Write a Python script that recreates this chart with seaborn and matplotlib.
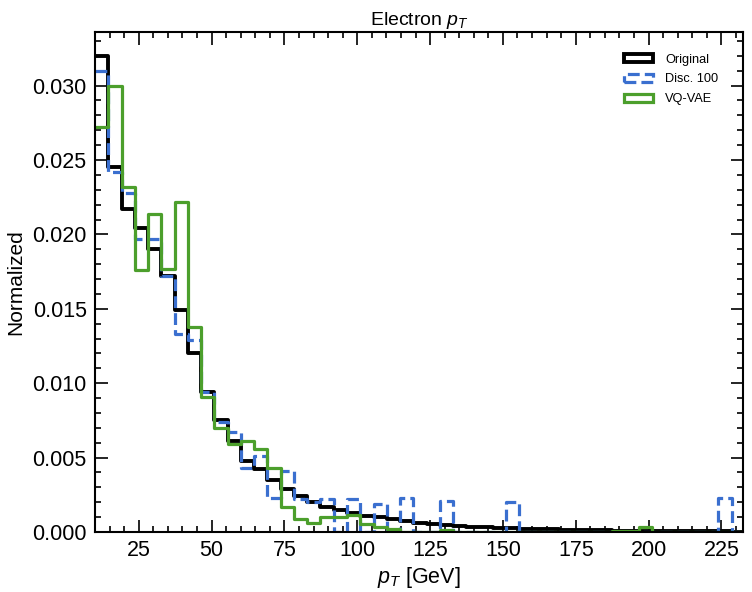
import numpy as np
import pandas as pd
import matplotlib
matplotlib.use("Agg")
import matplotlib.pyplot as plt
from matplotlib.patches import Patch
from matplotlib.ticker import MultipleLocator
import seaborn as sns

# ---- data (normalized bin heights) ----
bin_lo, bin_hi, n_bins = 10.0, 228.5, 48
x_range = (10.0, 232.4)

original = [0.0320, 0.0245, 0.0217, 0.0204, 0.0190, 0.0172, 0.0149, 0.0120,
            0.0094, 0.0075, 0.0061, 0.0048, 0.0042, 0.0035, 0.0029, 0.0024,
            0.0020, 0.0017, 0.0015, 0.0013, 0.0011, 0.0010, 0.00085, 0.00074,
            0.00063, 0.00054, 0.00045, 0.00040, 0.00036, 0.00032, 0.00029, 0.00026,
            0.00023, 0.00020, 0.00018, 0.00016, 0.00014, 0.00012, 0.00011, 0.00010,
            0.00009, 0.00008, 0.00007, 0.00006, 0.00005, 0.00005, 0.00004, 0.00004]

disc100 = [0.0310, 0.0242, 0.0228, 0.0197, 0.0197, 0.0172, 0.0133, 0.0129,
           0.0094, 0.0074, 0.0067, 0.0043, 0.0051, 0.0023, 0.0041, 0.0022,
           0.0020, 0.0022, 0.0, 0.0022, 0.0, 0.0019, 0.0, 0.0023,
           0.0, 0.0, 0.0021, 0.0, 0.0, 0.0, 0.0, 0.0020,
           0.0, 0.0, 0.0, 0.0, 0.0, 0.0, 0.0, 0.0,
           0.0, 0.0, 0.0, 0.0, 0.0, 0.0, 0.0, 0.0023]

vqvae = [0.0272, 0.0300, 0.0232, 0.0176, 0.0214, 0.0177, 0.0222, 0.0138,
         0.0091, 0.0070, 0.0059, 0.0061, 0.0056, 0.0043, 0.0017, 0.00085,
         0.0006, 0.0010, 0.0010, 0.00114, 0.00054, 0.00036, 0.00018, 0.0,
         0.0, 0.0, 0.00013, 0.0, 0.0, 0.0, 0.0, 0.0,
         0.0, 0.0, 0.0, 0.0, 0.0, 0.0, 0.0, 0.0001,
         0.0001, 0.00036, 0.0, 0.0, 0.0, 0.0, 0.0, 0.0]

labels = ["Original", "Disc. 100", "VQ-VAE"]
colors = ["#000000", "#3a6fcf", "#4c9f2c"]
styles = ["-", "--", "-"]
widths = [2.8, 2.3, 2.3]

# ---- style ----
sns.set_style("ticks")
plt.rcParams["font.family"] = ["Liberation Sans", "DejaVu Sans"]
plt.rcParams["mathtext.fontset"] = "custom"
plt.rcParams["mathtext.rm"] = "Liberation Sans"
plt.rcParams["mathtext.it"] = "Liberation Sans:italic"
for key in ["text.color", "axes.labelcolor", "xtick.color", "ytick.color", "axes.edgecolor"]:
    plt.rcParams[key] = "black"

edges = np.linspace(bin_lo, bin_hi, n_bins + 1)
step = edges[1] - edges[0]
edges_ext = np.append(edges, edges[-1] + step)  # empty bin closes the last step
centers = 0.5 * (edges_ext[:-1] + edges_ext[1:])

fig = plt.figure(figsize=(7.52, 5.92), dpi=100)
ax = fig.add_axes([95 / 752, 60 / 592, 648 / 752, 500 / 592])

for lab, vals, col, ls, lw in zip(labels, [original, disc100, vqvae], colors, styles, widths):
    df = pd.DataFrame({"pT": centers, "w": list(vals) + [0.0]})
    sns.histplot(data=df, x="pT", weights="w", bins=edges_ext.tolist(), element="step",
                 fill=False, color=col, linestyle=ls, linewidth=lw, ax=ax)

ax.set_xlim(*x_range)
ax.set_ylim(0, 0.0336)
ax.xaxis.set_major_locator(MultipleLocator(25))
ax.xaxis.set_minor_locator(MultipleLocator(5))
ax.yaxis.set_major_locator(MultipleLocator(0.005))
ax.yaxis.set_minor_locator(MultipleLocator(0.001))
ax.tick_params(which="both", direction="in", top=True, right=True, labelsize=15.5, width=1.2)
ax.tick_params(which="major", length=9, pad=6)
ax.tick_params(which="minor", length=4.5)
for sp in ax.spines.values():
    sp.set_linewidth(1.5)

ax.set_xlabel("$p_T$ [GeV]", fontsize=15.5, labelpad=3)
ax.set_ylabel("Normalized", fontsize=15, labelpad=5)
ax.set_title("Electron $p_T$", fontsize=14, pad=5)

handles = [Patch(facecolor="none", edgecolor=c, linestyle=s, linewidth=w, label=l)
           for l, c, s, w in zip(labels, colors, styles, widths)]
ax.legend(handles=handles, loc="upper right", bbox_to_anchor=(0.98, 0.98), frameon=False,
          fontsize=9.2, handlelength=2.3, handleheight=0.55, labelspacing=0.62,
          handletextpad=0.95)

fig.savefig("out.png", dpi=100)
